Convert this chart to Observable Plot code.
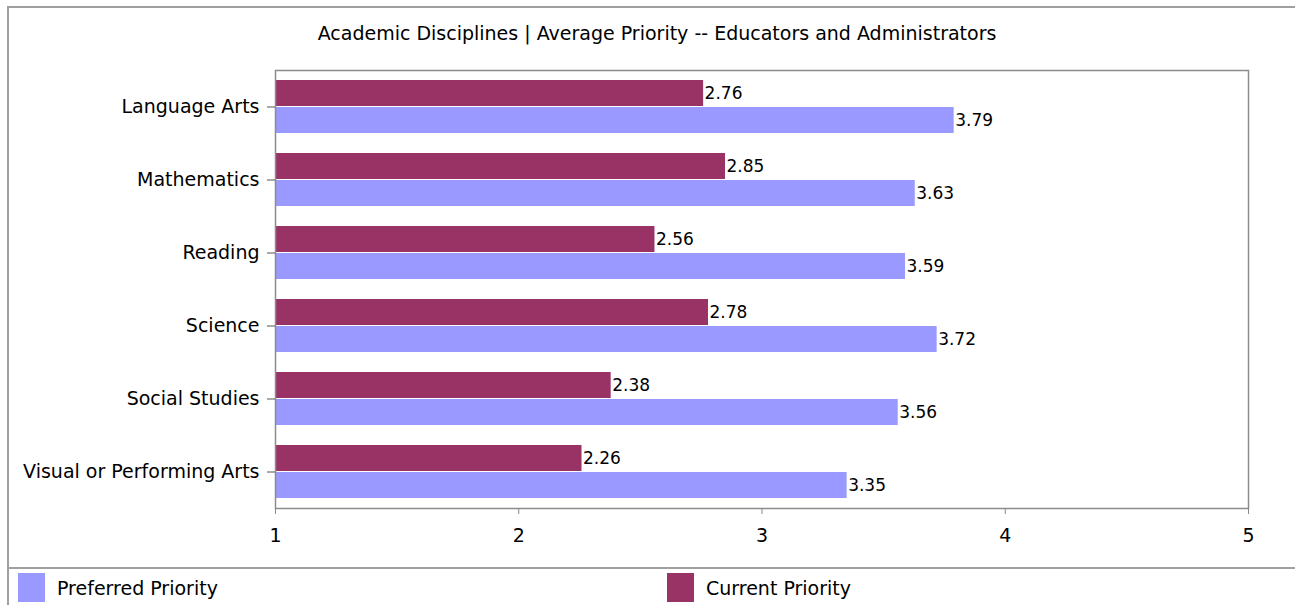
<!DOCTYPE html>
<html>
<head>
<meta charset="utf-8">
<script src="https://cdn.jsdelivr.net/npm/d3@7"></script>
<script src="https://cdn.jsdelivr.net/npm/@observablehq/plot@0.6"></script>
<style>
  html, body { margin: 0; padding: 0; background: #ffffff; }
  body { width: 1295px; height: 605px; position: relative; overflow: hidden; font-family: "DejaVu Sans", sans-serif; }
  #chart { position: absolute; left: 0; top: 0; }
  #title { position: absolute; left: 657px; top: 21px; transform: translateX(-50%); white-space: nowrap; font-size: 19px; line-height: 24px; color: #000; }
  .hline { position: absolute; height: 2px; background: #a0a0a0; }
  .vline { position: absolute; width: 2px; background: #a0a0a0; }
  #legend { position: absolute; left: 0; top: 573px; width: 1295px; height: 30px; }
  .item { position: absolute; top: 0; display: flex; align-items: center; height: 29px; font-size: 19px; color: #000; }
  .swatch { width: 27px; height: 29px; margin-right: 12px; }
</style>
</head>
<body>
<div id="chart"></div>
<div id="title"></div>
<div class="hline" style="left:8px; top:6px; width:1287px;"></div>
<div class="vline" style="left:7px; top:6px; height:599px;"></div>
<div class="hline" style="left:8px; top:567px; width:1287px;"></div>
<div id="legend"></div>
<script>
const title = "Academic Disciplines | Average Priority -- Educators and Administrators";
const categories = ["Language Arts", "Mathematics", "Reading", "Science", "Social Studies", "Visual or Performing Arts"];
const series = ["Current Priority", "Preferred Priority"];
const currentPriority = [2.76, 2.85, 2.56, 2.78, 2.38, 2.26];
const preferredPriority = [3.79, 3.63, 3.59, 3.72, 3.56, 3.35];
const seriesColors = ["#993366", "#9999FF"];
const xTicks = [1, 2, 3, 4, 5];
const legendOrder = ["Preferred Priority", "Current Priority"];

const baseline = xTicks[0];
const data = categories.flatMap((c, i) => [
  {category: c, series: series[0], value: currentPriority[i]},
  {category: c, series: series[1], value: preferredPriority[i]}
]);

document.getElementById("title").textContent = title;

const chart = Plot.plot({
  width: 1295,
  height: 560,
  marginLeft: 275,
  marginRight: 47,
  marginTop: 70,
  marginBottom: 52,
  style: {background: "transparent", fontFamily: "DejaVu Sans, sans-serif", fontSize: "19px", color: "#000"},
  x: {domain: [xTicks[0], xTicks[xTicks.length - 1]]},
  fy: {domain: categories, paddingInner: 0, paddingOuter: 0, label: null},
  y: {domain: series, paddingInner: 0.05, paddingOuter: 0.375, axis: null},
  color: {domain: series, range: seriesColors},
  marks: [
    Plot.barX(data, {fy: "category", y: "series", x1: () => baseline, x2: "value", fill: "series"}),
    Plot.text(data, {fy: "category", y: "series", x: "value", text: d => d.value.toFixed(2), textAnchor: "start", dx: 1, fill: "#000", fontSize: 17}),
    Plot.frame({facet: "super", stroke: "#8c8c8c", strokeWidth: 1.5}),
    Plot.axisFy({anchor: "left", tickSize: 8, tickPadding: 8, stroke: "#555", fill: "#000", fontSize: 19, label: null}),
    Plot.axisX({ticks: xTicks, tickFormat: d => String(d), tickSize: 6, tickPadding: 14, stroke: "#888", fill: "#000", fontSize: 19, label: null})
  ]
});
document.getElementById("chart").appendChild(chart);

const legend = document.getElementById("legend");
const legendX = [18, 667];
legendOrder.forEach((s, i) => {
  const item = document.createElement("div");
  item.className = "item";
  item.style.left = legendX[i] + "px";
  const sw = document.createElement("div");
  sw.className = "swatch";
  sw.style.background = seriesColors[series.indexOf(s)];
  const label = document.createElement("span");
  label.textContent = s;
  item.appendChild(sw);
  item.appendChild(label);
  legend.appendChild(item);
});
</script>
</body>
</html>
